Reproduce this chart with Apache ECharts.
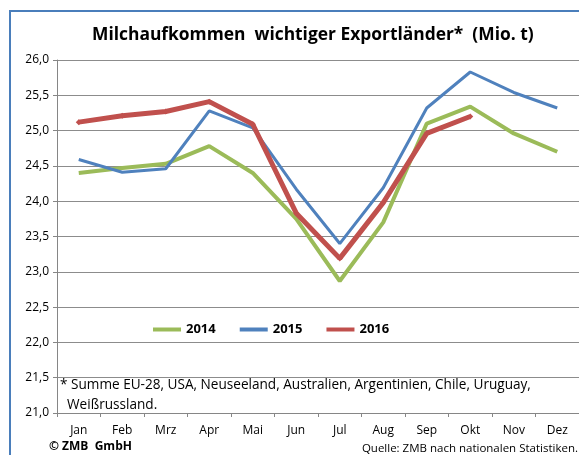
<!DOCTYPE html>
<html>
<head>
<meta charset="utf-8">
<script src="https://cdn.jsdelivr.net/npm/echarts@6/dist/echarts.min.js"></script>
<style>
  html, body { margin: 0; padding: 0; background: #fff; }
  #main { width: 579px; height: 455px; }
</style>
</head>
<body>
<div id="main"></div>
<script>
// Monatsdaten, Mio. t
const months = ["Jan", "Feb", "Mrz", "Apr", "Mai", "Jun", "Jul", "Aug", "Sep", "Okt", "Nov", "Dez"];
const y2014 = [24.40, 24.47, 24.53, 24.78, 24.40, 23.75, 22.87, 23.70, 25.10, 25.34, 24.96, 24.70];
const y2015 = [24.59, 24.41, 24.46, 25.28, 25.04, 24.17, 23.40, 24.19, 25.32, 25.83, 25.54, 25.32];
const y2016 = [25.12, 25.21, 25.27, 25.41, 25.09, 23.83, 23.19, 23.98, 24.96, 25.20];

const font = "'Open Sans', 'Liberation Sans', sans-serif";

let chart = echarts.init(document.getElementById("main"));

chart.setOption({
  animation: false,
  textStyle: { fontFamily: font },
  grid: { left: 57, right: 0, top: 60, bottom: 42 },
  legend: {
    top: 318,
    left: 148,
    itemGap: 24,
    itemWidth: 28,
    itemHeight: 4,
    icon: "rect",
    textStyle: { fontFamily: font, fontSize: 13, fontWeight: "bold", color: "#000" },
    data: ["2014", "2015", "2016"]
  },
  xAxis: {
    type: "category",
    data: months,
    boundaryGap: true,
    axisLine: { lineStyle: { color: "#868686" } },
    axisTick: { show: true, length: 4, lineStyle: { color: "#868686" } },
    axisLabel: { color: "#000", fontSize: 12, margin: 12 }
  },
  yAxis: {
    type: "value",
    min: 21,
    max: 26,
    interval: 0.5,
    axisLine: { show: true, lineStyle: { color: "#868686" } },
    axisTick: { show: true, length: 4, lineStyle: { color: "#868686" } },
    axisLabel: {
      color: "#000",
      fontSize: 12,
      margin: 8,
      formatter: (v) => v.toFixed(1).replace(".", ",")
    },
    splitLine: { lineStyle: { color: "#8c8c8c", width: 1 } }
  },
  series: [
    {
      name: "2014", type: "line", data: y2014, symbol: "none",
      itemStyle: { color: "#9bbb59" },
      lineStyle: { color: "#9bbb59", width: 4 }
    },
    {
      name: "2015", type: "line", data: y2015, symbol: "none",
      itemStyle: { color: "#4f81bd" },
      lineStyle: { color: "#4f81bd", width: 3 }
    },
    {
      name: "2016", type: "line", data: y2016, symbol: "diamond", symbolSize: 6,
      itemStyle: { color: "#c0504d" },
      lineStyle: { color: "#c0504d", width: 5 }
    }
  ],
  graphic: [
    {
      type: "rect", silent: true, z: -1,
      shape: { x: 10, y: 11, width: 600, height: 500 },
      style: { fill: "none", stroke: "#4a7ebb", lineWidth: 2 }
    },
    {
      type: "text", left: 92, top: 27,
      style: { text: "Milchaufkommen  wichtiger Exportländer*  (Mio. t)", font: "bold 17.4px " + font, fill: "#000" }
    },
    {
      type: "text", left: 60, top: 375,
      style: { text: "* Summe EU-28, USA, Neuseeland, Australien, Argentinien, Chile, Uruguay,\n  Weißrussland.", font: "13.6px " + font, fill: "#000", lineHeight: 20 }
    },
    {
      type: "text", left: 49, top: 441,
      style: { text: "© ZMB  GmbH", font: "bold 12px " + font, fill: "#000" }
    },
    {
      type: "text", right: 1, top: 443,
      style: { text: "Quelle: ZMB nach nationalen Statistiken.", font: "11.5px " + font, fill: "#000" }
    }
  ]
});
</script>
</body>
</html>
